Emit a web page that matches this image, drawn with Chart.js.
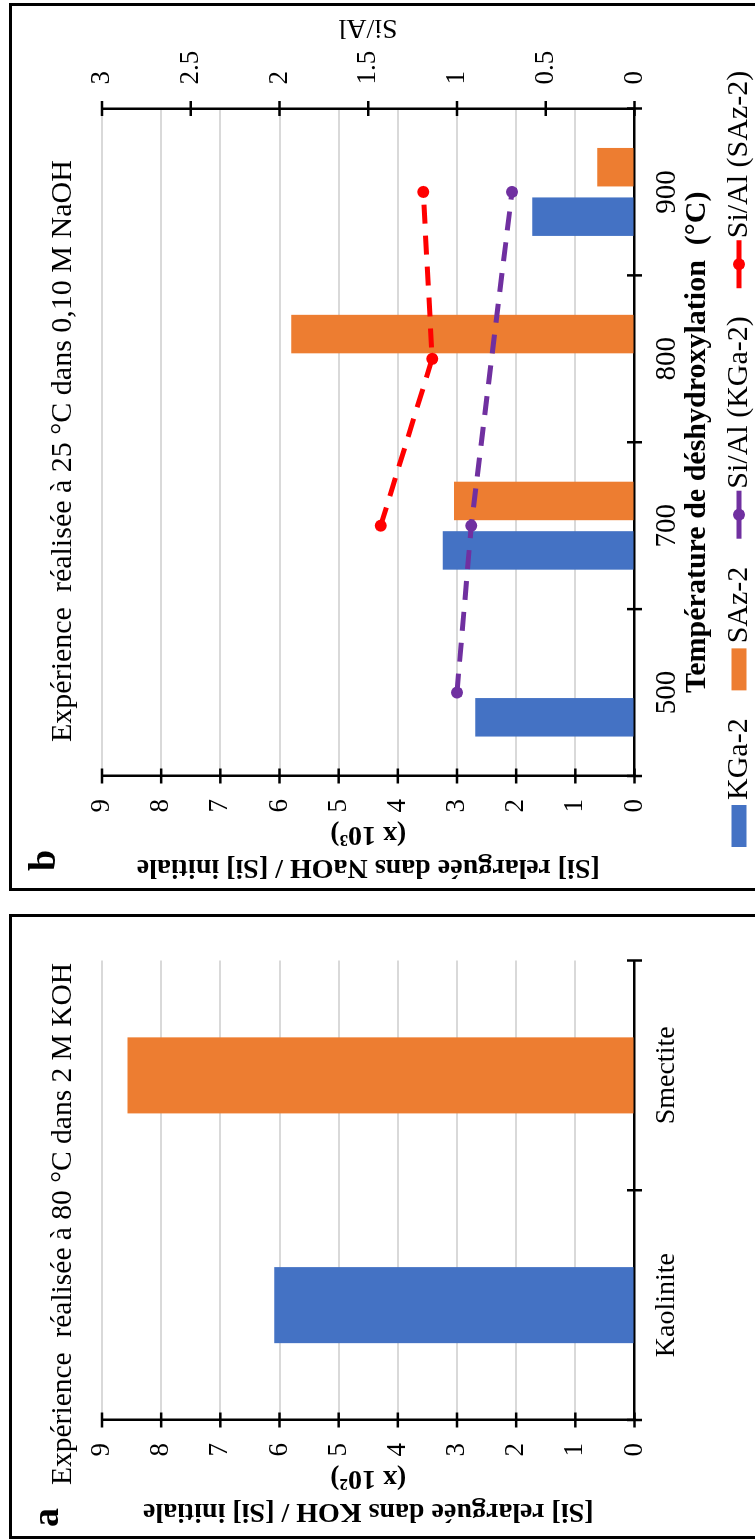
<!DOCTYPE html>
<html>
<head>
<meta charset="utf-8">
<script src="https://cdn.jsdelivr.net/npm/chart.js@4.4.1/dist/chart.umd.min.js"></script>
<style>
html,body{margin:0;padding:0;background:#fff;overflow:hidden;width:755px;height:1539px;}
#rot{position:absolute;left:0;top:0;width:1539px;height:755px;transform-origin:0 0;transform:translate(0px,1539px) rotate(-90deg);background:#fff;}
canvas{position:absolute;top:0;}
#ca{left:0;}
#cb{left:649px;}
.box{position:absolute;border:3px solid #000;box-sizing:border-box;pointer-events:none;}
</style>
</head>
<body>
<div id="rot">
  <canvas id="ca" width="624" height="755"></canvas>
  <canvas id="cb" width="885" height="755"></canvas>
  <div class="box" style="left:0;top:9px;width:625px;height:780px"></div>
  <div class="box" style="left:648px;top:9px;width:888px;height:780px"></div>
</div>
<script>
// ---------- DATA ----------
const categoriesA = ['Kaolinite', 'Smectite'];
const valuesA = [6.09, 8.57];

const categoriesB = ['500', '700', '800', '900'];
const kga2 = [2.69, 3.24, null, 1.73];
const saz2 = [null, 3.05, 5.80, 0.63];
const siAlKga2 = [1.00, 0.92, null, 0.69];
const siAlSaz2 = [null, 1.43, 1.14, 1.19];

const leftTicks = [0, 1, 2, 3, 4, 5, 6, 7, 8, 9];
const rightTicks = [0, 0.5, 1, 1.5, 2, 2.5, 3];

// ---------- STYLE ----------
const FAM = "'Liberation Serif', 'Times New Roman', serif";
const BLUE = '#4472C4', ORANGE = '#ED7D31', PURPLE = '#7030A0', RED = '#FF0000', GRID = '#d9d9d9';
Chart.defaults.font.family = FAM;
Chart.defaults.color = '#000';

const crossTicks = {
  id: 'crossTicks',
  afterDraw(chart) {
    const ctx = chart.ctx, ca = chart.chartArea, L = 7.5;
    ctx.save();
    ctx.strokeStyle = '#000';
    ctx.lineWidth = 2.5;
    Object.values(chart.scales).forEach(s => {
      if (s.axis === 'y') {
        const x = s.position === 'left' ? ca.left : ca.right;
        s.ticks.forEach((t, i) => {
          const y = s.getPixelForTick(i);
          ctx.beginPath(); ctx.moveTo(x - L, y); ctx.lineTo(x + L, y); ctx.stroke();
        });
      } else {
        const n = s.ticks.length;
        for (let i = 0; i <= n; i++) {
          const x = s.getPixelForValue(i - 0.5);
          ctx.beginPath(); ctx.moveTo(x, ca.bottom - L); ctx.lineTo(x, ca.bottom + L); ctx.stroke();
        }
      }
    });
    ctx.restore();
  }
};

const annot = {
  id: 'annot',
  afterDraw(chart, args, opts) {
    const ctx = chart.ctx;
    (opts.items || []).forEach(it => {
      ctx.save();
      ctx.font = it.font;
      ctx.fillStyle = '#000';
      ctx.textAlign = it.align || 'left';
      ctx.textBaseline = it.baseline || 'alphabetic';
      ctx.translate(it.x, it.y);
      if (it.rot) ctx.rotate(it.rot);
      ctx.fillText(it.text, 0, 0);
      ctx.restore();
    });
  }
};

const legendB = {
  id: 'legendB',
  afterDraw(chart, args, o) {
    const ctx = chart.ctx;
    ctx.save();
    ctx.font = o.font;
    ctx.textBaseline = 'middle';
    ctx.textAlign = 'left';
    let x = o.x;
    const y = o.y;
    chart.data.datasets.forEach(ds => {
      if (ds.type === 'line') {
        ctx.strokeStyle = ds.borderColor;
        ctx.lineWidth = o.lineW;
        ctx.beginPath(); ctx.moveTo(x, y); ctx.lineTo(x + o.lineLen, y); ctx.stroke();
        ctx.fillStyle = ds.borderColor;
        ctx.beginPath(); ctx.arc(x + o.lineLen / 2, y, o.r, 0, Math.PI * 2); ctx.fill();
        x += o.lineLen + o.lineGap;
      } else {
        ctx.fillStyle = ds.backgroundColor;
        ctx.fillRect(x, y - o.boxH / 2, o.boxW, o.boxH);
        x += o.boxW + o.boxGap;
      }
      ctx.fillStyle = '#000';
      ctx.fillText(ds.label, x, y);
      x += ctx.measureText(ds.label).width + o.itemGap;
    });
    ctx.restore();
  }
};

const gridColor = c => (c.tick && c.tick.value === 0) ? 'rgba(0,0,0,0)' : GRID;

// ---------- PANEL A ----------
new Chart(document.getElementById('ca'), {
  type: 'bar',
  data: {
    labels: categoriesA,
    datasets: [{
      label: 'Si',
      data: valuesA,
      backgroundColor: [BLUE, ORANGE],
      borderWidth: 0,
      categoryPercentage: 0.331,
      barPercentage: 1
    }]
  },
  options: {
    responsive: false,
    animation: false,
    devicePixelRatio: 1,
    layout: { padding: { top: 102, right: 45.5, bottom: 0, left: 0 } },
    plugins: {
      legend: { display: false },
      tooltip: { enabled: false },
      annot: {
        items: [
          { text: 'a', x: 12, y: 58, font: 'bold 38px ' + FAM },
          { text: 'Expérience  réalisée à 80 °C dans 2 M KOH', x: 54, y: 71, font: '29.5px ' + FAM }
        ]
      }
    },
    scales: {
      x: {
        grid: { display: false, drawTicks: false },
        border: { display: true, color: '#000', width: 2.5 },
        ticks: { font: { size: 28 }, padding: 15, color: '#000' },
        afterFit: s => { s.height = 120.5; }
      },
      y: {
        min: 0, max: 9,
        afterBuildTicks: s => { s.ticks = leftTicks.map(v => ({ value: v })); },
        ticks: { font: { size: 27 }, padding: 23, color: '#000', callback: v => String(v) },
        grid: { color: gridColor, lineWidth: 2, drawTicks: false },
        border: { display: true, color: '#000', width: 2.5 },
        title: {
          display: true,
          text: ['[Si] relarguée dans KOH / [Si] initiale', '(x 10²)'],
          font: { size: 28, weight: 'bold', lineHeight: 33 / 28 },
          padding: { top: 11, bottom: 0 },
          color: '#000'
        },
        afterFit: s => { s.width = 119; }
      }
    }
  },
  plugins: [crossTicks, annot]
});

// ---------- PANEL B ----------
new Chart(document.getElementById('cb'), {
  type: 'bar',
  data: {
    labels: categoriesB,
    datasets: [
      { label: 'KGa-2', data: kga2, backgroundColor: BLUE, yAxisID: 'y', order: 1 },
      { label: 'SAz-2', data: saz2, backgroundColor: ORANGE, yAxisID: 'y', order: 1 },
      { type: 'line', label: 'Si/Al (KGa-2)', data: siAlKga2, borderColor: PURPLE, backgroundColor: PURPLE,
        yAxisID: 'y2', order: 0, spanGaps: true, borderDash: [19, 12], borderWidth: 5, tension: 0,
        pointRadius: 6, pointBackgroundColor: PURPLE, pointBorderWidth: 0 },
      { type: 'line', label: 'Si/Al (SAz-2)', data: siAlSaz2, borderColor: RED, backgroundColor: RED,
        yAxisID: 'y2', order: 0, spanGaps: true, borderDash: [19, 12], borderWidth: 5, tension: 0,
        pointRadius: 6, pointBackgroundColor: RED, pointBorderWidth: 0 }
    ]
  },
  options: {
    responsive: false,
    animation: false,
    devicePixelRatio: 1,
    datasets: { bar: { categoryPercentage: 0.593, barPercentage: 0.778, borderWidth: 0 } },
    layout: { padding: { top: 102, right: 0, bottom: 0, left: 0 } },
    plugins: {
      legend: { display: false },
      tooltip: { enabled: false },
      annot: {
        items: [
          { text: 'b', x: 19, y: 55, font: 'bold 38px ' + FAM },
          { text: 'Expérience  réalisée à 25 °C dans 0,10 M NaOH', x: 148, y: 71, font: '30px ' + FAM },
          { text: 'Si/Al', x: 863, y: 368, rot: -Math.PI / 2, align: 'center', baseline: 'middle', font: '28px ' + FAM }
        ]
      },
      legendB: { x: 43, y: 739, font: '30px ' + FAM, boxW: 42, boxH: 15, boxGap: 5, lineLen: 48, lineGap: 2, lineW: 5, r: 6, itemGap: 28 }
    },
    scales: {
      x: {
        grid: { display: false, drawTicks: false },
        border: { display: true, color: '#000', width: 2.5 },
        ticks: { font: { size: 29 }, padding: 15, color: '#000' },
        title: {
          display: true,
          text: 'Température de déshydroxylation  (°C)',
          font: { size: 30, weight: 'bold' },
          padding: { top: 0, bottom: 40 },
          color: '#000'
        },
        afterFit: s => { s.height = 120.5; }
      },
      y: {
        position: 'left',
        min: 0, max: 9,
        afterBuildTicks: s => { s.ticks = leftTicks.map(v => ({ value: v })); },
        ticks: { font: { size: 27 }, padding: 23, color: '#000', callback: v => String(v) },
        grid: { color: gridColor, lineWidth: 2, drawTicks: false },
        border: { display: true, color: '#000', width: 2.5 },
        title: {
          display: true,
          text: ['[Si] relarguée dans NaOH / [Si] initiale', '(x 10³)'],
          font: { size: 28, weight: 'bold', lineHeight: 33 / 28 },
          padding: { top: 6, bottom: 0 },
          color: '#000'
        },
        afterFit: s => { s.width = 114; }
      },
      y2: {
        position: 'right',
        min: 0, max: 3,
        afterBuildTicks: s => { s.ticks = rightTicks.map(v => ({ value: v })); },
        ticks: { font: { size: 27 }, padding: 24, color: '#000', callback: v => String(v) },
        grid: { display: false, drawTicks: false },
        border: { display: true, color: '#000', width: 2.5 },
        afterFit: s => { s.width = 103.5; }
      }
    }
  },
  plugins: [crossTicks, annot, legendB]
});
</script>
</body>
</html>
